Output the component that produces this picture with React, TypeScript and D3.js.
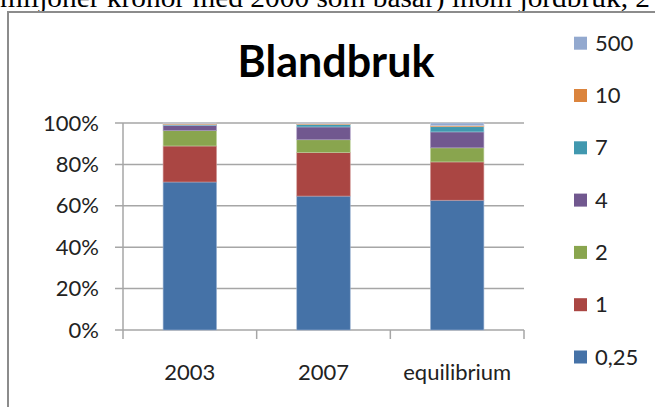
import React from "react";
import * as d3 from "d3";

const categories = ["2003", "2007", "equilibrium"];
const seriesNames = ["0,25", "1", "2", "4", "7", "10", "500"];
const v025 = [0.715, 0.647, 0.627];
const v1 = [0.174, 0.21, 0.185];
const v2 = [0.074, 0.062, 0.068];
const v4 = [0.026, 0.062, 0.077];
const v7 = [0.004, 0.012, 0.025];
const v10 = [0.005, 0.005, 0.005];
const v500 = [0.002, 0.002, 0.013];
const yTicks = [0, 0.2, 0.4, 0.6, 0.8, 1];
const titleText = "Blandbruk";
const topText = "miljoner kronor med 2000 som basår) inom jordbruk, 2";

const colors = ["#4572A7", "#AA4643", "#89A54E", "#71588F", "#4198AF", "#DB843D", "#93A9CF"];
const strokes = ["#9db3d3", "#d19a98", "#c0d3a0", "#ad9dc4", "#93c9d6", "#ecbb95", "#c6d3e8"];

export default function App() {
  const W = 655, H = 407;
  const left = 123, right = 524, top = 123, bottom = 330;
  const allVals = [v025, v1, v2, v4, v7, v10, v500];
  const rows = categories.map((c, i) => {
    const r: any = { cat: c };
    seriesNames.forEach((s, k) => (r[s] = allVals[k][i]));
    return r;
  });
  const stack = d3.stack<any>().keys(seriesNames).offset(d3.stackOffsetExpand);
  const layers = stack(rows);
  const x = d3.scaleBand().domain(categories).range([left, right]).paddingInner(0.6).paddingOuter(0.3);
  const xb = d3.scaleBand().domain(categories).range([left, right]);
  const y = d3.scaleLinear().domain([0, 1]).range([bottom, top]);
  const font = "Lato, 'Open Sans', sans-serif";
  const legendY0 = 357, legendStep = 52.3;

  return (
    <svg width={W} height={H} style={{ position: "absolute", left: 0, top: 0, background: "#fff" }}>
      <text x={0} y={7} fontFamily="'Liberation Serif', serif" fontSize={28} textLength={650} lengthAdjust="spacingAndGlyphs" fill="#000">
        {topText}
      </text>
      <rect x={8} y={12} width={720} height={520} fill="#fff" stroke="#8c8c8c" strokeWidth={2} />
      <text x={336} y={77} textAnchor="middle" fontFamily={font} fontWeight={700} fontSize={43} fill="#000">
        {titleText}
      </text>
      {yTicks.map((t) => (
        <g key={t}>
          <line x1={left - 8} x2={right} y1={y(t)} y2={y(t)} stroke="#a6a6a6" strokeWidth={1.5} />
          <text x={99} y={y(t) + 7.5} textAnchor="end" fontFamily={font} fontSize={22} fill="#222">
            {d3.format(".0%")(t)}
          </text>
        </g>
      ))}
      <line x1={left} x2={left} y1={top} y2={bottom} stroke="#a6a6a6" strokeWidth={1.5} />
      {[...categories.map((c) => xb(c) as number), right].map((px, i) => (
        <line key={i} x1={px} x2={px} y1={bottom} y2={bottom + 9} stroke="#a6a6a6" strokeWidth={1.5} />
      ))}
      {layers.map((layer, k) => (
        <g key={layer.key}>
          {layer.map((d, i) => (
            <rect
              key={i}
              x={x(categories[i])}
              width={x.bandwidth()}
              y={y(d[1])}
              height={Math.max(0, y(d[0]) - y(d[1]))}
              fill={colors[k]}
              stroke={strokes[k]}
              strokeWidth={0.6}
            />
          ))}
        </g>
      ))}
      {categories.map((c) => (
        <text key={c} x={(xb(c) as number) + xb.bandwidth() / 2} y={380} textAnchor="middle" fontFamily={font} fontSize={22} fill="#222">
          {c}
        </text>
      ))}
      {seriesNames.map((s, k) => (
        <g key={s}>
          <rect x={574} y={legendY0 - k * legendStep - 6.5} width={13} height={13} fill={colors[k]} />
          <text x={595} y={legendY0 - k * legendStep + 7.5} fontFamily={font} fontSize={22} fill="#222">
            {s}
          </text>
        </g>
      ))}
    </svg>
  );
}
